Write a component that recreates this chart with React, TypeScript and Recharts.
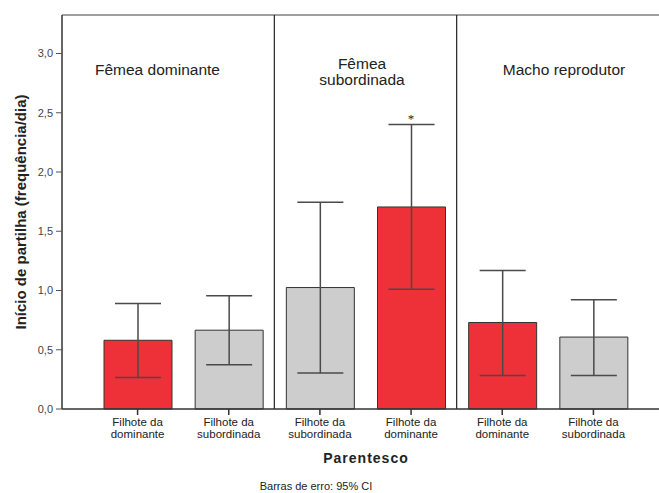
import React from "react";
import {
  BarChart,
  Bar,
  XAxis,
  YAxis,
  ErrorBar,
  ReferenceLine,
  ReferenceDot,
  Cell,
  Customized
} from "recharts";

// Parentesco categories (one bar each), grouped in threes by parent
const tickLabels: [string, string][] = [
  ["Filhote da", "dominante"],
  ["Filhote da", "subordinada"],
  ["Filhote da", "subordinada"],
  ["Filhote da", "dominante"],
  ["Filhote da", "dominante"],
  ["Filhote da", "subordinada"]
];
const means = [0.58, 0.665, 1.025, 1.705, 0.73, 0.607];
const ciLow = [0.265, 0.373, 0.303, 1.011, 0.283, 0.283];
const ciHigh = [0.89, 0.955, 1.744, 2.4, 1.168, 0.921];
const isDominant = [true, false, false, true, true, false];
const groupBreaks = [2, 4];
const yTicks = [0, 0.5, 1, 1.5, 2, 2.5, 3];
const yMax = 3.325;

const RED = "#ee3039";
const GREY = "#cdcdcd";
const FONT = "Arial, 'Liberation Sans', Helvetica, sans-serif";

const data = means.map((m, i) => ({
  pos: i + 0.5,
  mean: m,
  ci: [m - ciLow[i], ciHigh[i] - m]
}));

const TwoLineTick = (props: any) => {
  const { x, y, payload } = props;
  const lines = tickLabels[Math.floor(payload.value)] || ["", ""];
  return (
    <text
      x={x}
      y={y}
      textAnchor="middle"
      fontSize={11.5}
      fontFamily={FONT}
      fill="#222"
    >
      <tspan x={x} dy={9}>{lines[0]}</tspan>
      <tspan x={x} dy={11.5}>{lines[1]}</tspan>
    </text>
  );
};

const Annotations = () => (
  <g fontFamily={FONT} fill="#222">
    <text x={95} y={75} fontSize={15.5}>Fêmea dominante</text>
    <text x={362} y={69} fontSize={15.5} textAnchor="middle">
      <tspan x={362}>Fêmea</tspan>
      <tspan x={362} dy={16}>subordinada</tspan>
    </text>
    <text x={564} y={75} fontSize={15.5} textAnchor="middle">Macho reprodutor</text>
    <text
      x={20}
      y={212}
      fontSize={15}
      fontWeight="bold"
      textAnchor="middle"
      dominantBaseline="central"
      transform="rotate(-90 20 212)"
    >
      Início de partilha (frequência/dia)
    </text>
    <text
      x={366}
      y={463}
      fontSize={14}
      fontWeight="bold"
      letterSpacing={1}
      textAnchor="middle"
    >
      Parentesco
    </text>
    <text x={316} y={490} fontSize={11} textAnchor="middle">
      Barras de erro: 95% CI
    </text>
  </g>
);

export default function App() {
  return (
    <div
      style={{
        position: "absolute",
        left: 0,
        top: 0,
        width: 659,
        height: 493,
        background: "#fff"
      }}
    >
      <BarChart
        width={659}
        height={493}
        data={data}
        margin={{ top: 15, right: 0, left: 0, bottom: 0 }}
      >
        <XAxis
          dataKey="pos"
          type="number"
          domain={[0, 6]}
          ticks={data.map((d) => d.pos)}
          padding={{ left: 30, right: 20 }}
          height={84}
          tickSize={6}
          tick={<TwoLineTick />}
          axisLine={{ stroke: "#333", strokeWidth: 1.5 }}
          tickLine={{ stroke: "#333", strokeWidth: 1.5 }}
          interval={0}
        />
        <YAxis
          width={62}
          domain={[0, yMax]}
          ticks={yTicks}
          tickSize={6}
          tickMargin={3}
          tickFormatter={(v: number) => v.toFixed(1).replace(".", ",")}
          tick={{ fontSize: 11, fill: "#444", fontFamily: FONT }}
          axisLine={{ stroke: "#333", strokeWidth: 1.5 }}
          tickLine={{ stroke: "#555", strokeWidth: 1 }}
        />
        {/* frame line along the top of the plot area */}
        <ReferenceLine y={yMax} stroke="#808080" strokeWidth={1.5} />
        {groupBreaks.map((b) => (
          <ReferenceLine key={b} x={b} stroke="#222" strokeWidth={1.2} />
        ))}
        <Bar
          dataKey="mean"
          barSize={68}
          stroke="#333"
          strokeWidth={1}
          isAnimationActive={false}
        >
          {data.map((d, i) => (
            <Cell key={`cell-${i}`} fill={isDominant[i] ? RED : GREY} />
          ))}
          <ErrorBar
            dataKey="ci"
            direction="y"
            width={23}
            stroke="#4a4a4a"
            strokeWidth={1.5}
            isAnimationActive={false}
          />
        </Bar>
        <ReferenceDot
          x={data[3].pos}
          y={ciHigh[3]}
          r={0}
          label={{
            value: "*",
            position: "top",
            fontSize: 13,
            fill: "#222",
            offset: 2
          }}
        />
        <Customized component={<Annotations />} />
      </BarChart>
    </div>
  );
}
